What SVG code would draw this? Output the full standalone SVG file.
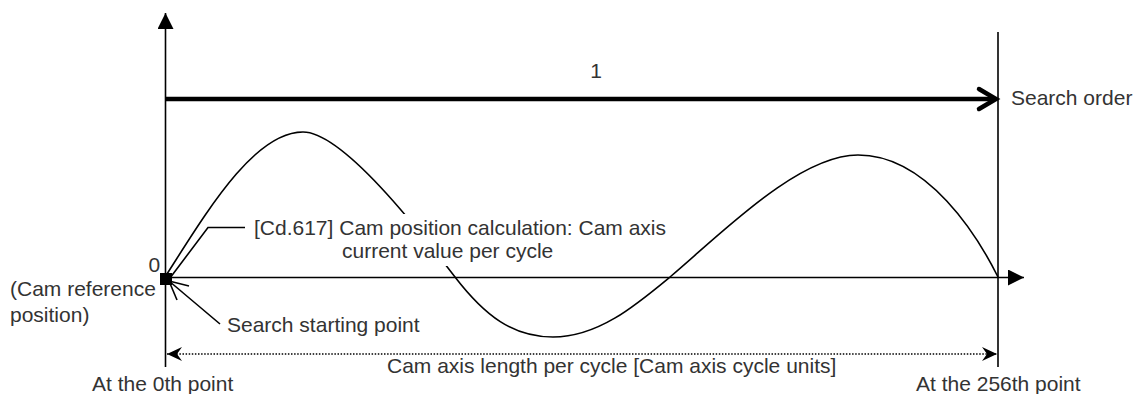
<svg xmlns="http://www.w3.org/2000/svg" width="1135" height="394" viewBox="0 0 1135 394">
<style>
.t{font-family:"Liberation Sans",Arial,sans-serif;font-size:21px;fill:#333}
.ln{stroke:#000;stroke-width:1.6;fill:none}
</style>
<defs>
<marker id="tri" viewBox="0 0 16 16" refX="16" refY="8" markerWidth="16" markerHeight="16" markerUnits="userSpaceOnUse" orient="auto">
<path d="M0,0 L16,8 L0,16 Z" fill="#000"/>
</marker>
<marker id="notch" viewBox="0 0 15 14" refX="15" refY="7" markerWidth="15" markerHeight="14" markerUnits="userSpaceOnUse" orient="auto-start-reverse">
<path d="M0,0 L15,7 L0,14 L5,7 Z" fill="#000"/>
</marker>
</defs>
<rect width="1135" height="394" fill="#fff"/>
<g id="connectors">
<line id="y-axis" class="ln" x1="165.5" y1="367" x2="165.5" y2="13" marker-end="url(#tri)"/>
<line id="end-line" class="ln" x1="998" y1="32" x2="998" y2="367"/>
<line id="x-axis" class="ln" x1="165" y1="277.5" x2="1024" y2="277.5" marker-end="url(#tri)"/>
<line id="order-arrow" x1="166" y1="99" x2="995" y2="99" stroke="#000" stroke-width="4.5"/>
<polyline points="979,89 996,99 979,109" fill="none" stroke="#000" stroke-width="4.5" stroke-linecap="round" stroke-linejoin="miter"/>
<line id="length-arrow" x1="167" y1="354" x2="997" y2="354" stroke="#000" stroke-width="1.5" stroke-dasharray="1.5,1.6" marker-start="url(#notch)" marker-end="url(#notch)"/>
<path id="cam-curve" class="ln" d="M165,277 C205,215 253,132 303,132 C343,132 420,231.5 455,277 C485,316 513,337 553,337 C598,337 635,306 670,277 C720,235 798,155 858,155 C928,155 978,237 998,277"/>
<polyline id="cd617-leader" class="ln" points="170,278 208,227.5 245,227.5"/>
<line id="start-leader" class="ln" x1="220" y1="324" x2="169" y2="281"/>
<line class="ln" x1="169" y1="281" x2="189" y2="286"/>
<line class="ln" x1="169" y1="281" x2="177" y2="300"/>
</g>
<g id="origin">
<rect x="160" y="273" width="12" height="12" fill="#000"/>
<text class="t" x="148.5" y="272">0</text>
<text class="t" x="10" y="296">(Cam reference</text>
<text class="t" x="10" y="322">position)</text>
</g>
<g id="label-cd617">
<path d="M250,214 H672 V241 H560 V266 H338 V241 H250 Z" fill="#fff"/>
<text class="t" x="254" y="235">[Cd.617] Cam position calculation: Cam axis</text>
<text class="t" x="342" y="258">current value per cycle</text>
</g>
<g id="label-start">
<text class="t" x="227" y="332">Search starting point</text>
</g>
<g id="label-order">
<text class="t" x="596" y="78" text-anchor="middle">1</text>
<text class="t" x="1011" y="105">Search order</text>
</g>
<g id="label-length">
<text class="t" x="387" y="373">Cam axis length per cycle [Cam axis cycle units]</text>
</g>
<g id="label-points">
<text class="t" x="92" y="391">At the 0th point</text>
<text class="t" x="916" y="391">At the 256th point</text>
</g>
</svg>
